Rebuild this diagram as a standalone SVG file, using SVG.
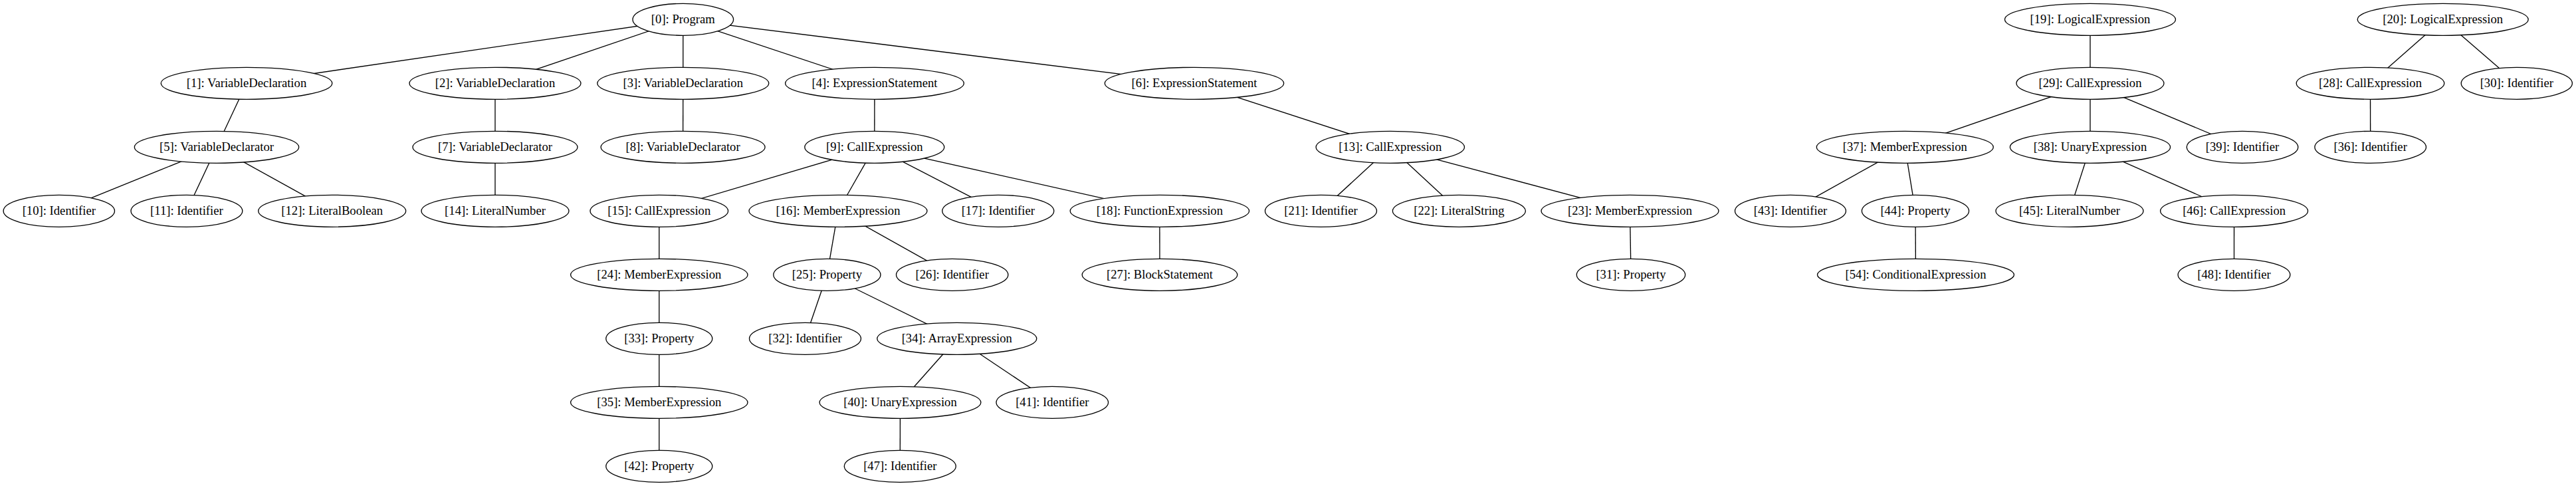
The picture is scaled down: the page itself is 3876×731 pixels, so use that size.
<svg xmlns="http://www.w3.org/2000/svg" width="3876" height="731" viewBox="0 0 3876 731">
<style>
.n ellipse{fill:#fff;stroke:#000;stroke-width:1.33}
.n text{font-family:"Liberation Serif","Times New Roman",serif;font-size:18.67px;text-anchor:middle;fill:#000}
#edges line{stroke:#000;stroke-width:1.33}
</style>
<rect width="3876" height="731" fill="#fff"/>
<g id="edges">
<line x1="1027.8" y1="29.3" x2="371" y2="125.3"/>
<line x1="1027.8" y1="29.3" x2="745" y2="125.3"/>
<line x1="1027.8" y1="29.3" x2="1027.8" y2="125.3"/>
<line x1="1027.8" y1="29.3" x2="1316" y2="125.3"/>
<line x1="1027.8" y1="29.3" x2="1797" y2="125.3"/>
<line x1="371" y1="125.3" x2="326" y2="221.3"/>
<line x1="745" y1="125.3" x2="745" y2="221.3"/>
<line x1="1027.8" y1="125.3" x2="1027.6" y2="221.3"/>
<line x1="1316" y1="125.3" x2="1315.8" y2="221.3"/>
<line x1="1797" y1="125.3" x2="2091.8" y2="221.3"/>
<line x1="326" y1="221.3" x2="88.8" y2="317.3"/>
<line x1="326" y1="221.3" x2="280.9" y2="317.3"/>
<line x1="326" y1="221.3" x2="499.7" y2="317.3"/>
<line x1="745" y1="221.3" x2="745" y2="317.3"/>
<line x1="1315.8" y1="221.3" x2="991.8" y2="317.3"/>
<line x1="1315.8" y1="221.3" x2="1261" y2="317.3"/>
<line x1="1315.8" y1="221.3" x2="1501.8" y2="317.3"/>
<line x1="1315.8" y1="221.3" x2="1744.9" y2="317.3"/>
<line x1="2091.8" y1="221.3" x2="1987.5" y2="317.3"/>
<line x1="2091.8" y1="221.3" x2="2195.4" y2="317.3"/>
<line x1="2091.8" y1="221.3" x2="2452.5" y2="317.3"/>
<line x1="991.8" y1="317.3" x2="991.8" y2="413.3"/>
<line x1="1261" y1="317.3" x2="1244.4" y2="413.3"/>
<line x1="1261" y1="317.3" x2="1432.7" y2="413.3"/>
<line x1="1744.9" y1="317.3" x2="1745" y2="413.3"/>
<line x1="2452.5" y1="317.3" x2="2454" y2="413.3"/>
<line x1="991.8" y1="413.3" x2="991.8" y2="509.3"/>
<line x1="1244.4" y1="413.3" x2="1211.5" y2="509.3"/>
<line x1="1244.4" y1="413.3" x2="1439.8" y2="509.3"/>
<line x1="991.8" y1="509.3" x2="991.8" y2="605.3"/>
<line x1="1439.8" y1="509.3" x2="1354.5" y2="605.3"/>
<line x1="1439.8" y1="509.3" x2="1583.3" y2="605.3"/>
<line x1="991.8" y1="605.3" x2="991.8" y2="701.3"/>
<line x1="1354.5" y1="605.3" x2="1354.3" y2="701.3"/>
<line x1="3145" y1="29.3" x2="3145" y2="125.3"/>
<line x1="3675.7" y1="29.3" x2="3566.5" y2="125.3"/>
<line x1="3675.7" y1="29.3" x2="3786.8" y2="125.3"/>
<line x1="3145" y1="125.3" x2="2866.3" y2="221.3"/>
<line x1="3145" y1="125.3" x2="3145" y2="221.3"/>
<line x1="3145" y1="125.3" x2="3374" y2="221.3"/>
<line x1="3566.5" y1="125.3" x2="3566.7" y2="221.3"/>
<line x1="2866.3" y1="221.3" x2="2694" y2="317.3"/>
<line x1="2866.3" y1="221.3" x2="2882" y2="317.3"/>
<line x1="3145" y1="221.3" x2="3114" y2="317.3"/>
<line x1="3145" y1="221.3" x2="3361.6" y2="317.3"/>
<line x1="2882" y1="317.3" x2="2882.5" y2="413.3"/>
<line x1="3361.6" y1="317.3" x2="3361.5" y2="413.3"/>
</g>
<g id="n0" class="n"><ellipse cx="1027.8" cy="29.3" rx="75.8" ry="24"/><text x="1027.8" y="35.3">[0]: Program</text></g>
<g id="n1" class="n"><ellipse cx="371" cy="125.3" rx="128.8" ry="24"/><text x="371" y="131.3">[1]: VariableDeclaration</text></g>
<g id="n2" class="n"><ellipse cx="745" cy="125.3" rx="129" ry="24"/><text x="745" y="131.3">[2]: VariableDeclaration</text></g>
<g id="n3" class="n"><ellipse cx="1027.8" cy="125.3" rx="129" ry="24"/><text x="1027.8" y="131.3">[3]: VariableDeclaration</text></g>
<g id="n4" class="n"><ellipse cx="1316" cy="125.3" rx="134.4" ry="24"/><text x="1316" y="131.3">[4]: ExpressionStatement</text></g>
<g id="n6" class="n"><ellipse cx="1797" cy="125.3" rx="134.7" ry="24"/><text x="1797" y="131.3">[6]: ExpressionStatement</text></g>
<g id="n5" class="n"><ellipse cx="326" cy="221.3" rx="123.7" ry="24"/><text x="326" y="227.3">[5]: VariableDeclarator</text></g>
<g id="n7" class="n"><ellipse cx="745" cy="221.3" rx="124" ry="24"/><text x="745" y="227.3">[7]: VariableDeclarator</text></g>
<g id="n8" class="n"><ellipse cx="1027.6" cy="221.3" rx="123.5" ry="24"/><text x="1027.6" y="227.3">[8]: VariableDeclarator</text></g>
<g id="n9" class="n"><ellipse cx="1315.8" cy="221.3" rx="105" ry="24"/><text x="1315.8" y="227.3">[9]: CallExpression</text></g>
<g id="n13" class="n"><ellipse cx="2091.8" cy="221.3" rx="111.7" ry="24"/><text x="2091.8" y="227.3">[13]: CallExpression</text></g>
<g id="n10" class="n"><ellipse cx="88.8" cy="317.3" rx="83.7" ry="24"/><text x="88.8" y="323.3">[10]: Identifier</text></g>
<g id="n11" class="n"><ellipse cx="280.9" cy="317.3" rx="83.9" ry="24"/><text x="280.9" y="323.3">[11]: Identifier</text></g>
<g id="n12" class="n"><ellipse cx="499.7" cy="317.3" rx="111" ry="24"/><text x="499.7" y="323.3">[12]: LiteralBoolean</text></g>
<g id="n14" class="n"><ellipse cx="745" cy="317.3" rx="111" ry="24"/><text x="745" y="323.3">[14]: LiteralNumber</text></g>
<g id="n15" class="n"><ellipse cx="991.8" cy="317.3" rx="103.8" ry="24"/><text x="991.8" y="323.3">[15]: CallExpression</text></g>
<g id="n16" class="n"><ellipse cx="1261" cy="317.3" rx="134" ry="24"/><text x="1261" y="323.3">[16]: MemberExpression</text></g>
<g id="n17" class="n"><ellipse cx="1501.8" cy="317.3" rx="84" ry="24"/><text x="1501.8" y="323.3">[17]: Identifier</text></g>
<g id="n18" class="n"><ellipse cx="1744.9" cy="317.3" rx="134.7" ry="24"/><text x="1744.9" y="323.3">[18]: FunctionExpression</text></g>
<g id="n21" class="n"><ellipse cx="1987.5" cy="317.3" rx="84" ry="24"/><text x="1987.5" y="323.3">[21]: Identifier</text></g>
<g id="n22" class="n"><ellipse cx="2195.4" cy="317.3" rx="100" ry="24"/><text x="2195.4" y="323.3">[22]: LiteralString</text></g>
<g id="n23" class="n"><ellipse cx="2452.5" cy="317.3" rx="133.5" ry="24"/><text x="2452.5" y="323.3">[23]: MemberExpression</text></g>
<g id="n24" class="n"><ellipse cx="991.8" cy="413.3" rx="133.2" ry="24"/><text x="991.8" y="419.3">[24]: MemberExpression</text></g>
<g id="n25" class="n"><ellipse cx="1244.4" cy="413.3" rx="80.6" ry="24"/><text x="1244.4" y="419.3">[25]: Property</text></g>
<g id="n26" class="n"><ellipse cx="1432.7" cy="413.3" rx="84.2" ry="24"/><text x="1432.7" y="419.3">[26]: Identifier</text></g>
<g id="n27" class="n"><ellipse cx="1745" cy="413.3" rx="116.8" ry="24"/><text x="1745" y="419.3">[27]: BlockStatement</text></g>
<g id="n31" class="n"><ellipse cx="2454" cy="413.3" rx="81.7" ry="24"/><text x="2454" y="419.3">[31]: Property</text></g>
<g id="n33" class="n"><ellipse cx="991.8" cy="509.3" rx="80" ry="24"/><text x="991.8" y="515.3">[33]: Property</text></g>
<g id="n32" class="n"><ellipse cx="1211.5" cy="509.3" rx="84" ry="24"/><text x="1211.5" y="515.3">[32]: Identifier</text></g>
<g id="n34" class="n"><ellipse cx="1439.8" cy="509.3" rx="120" ry="24"/><text x="1439.8" y="515.3">[34]: ArrayExpression</text></g>
<g id="n35" class="n"><ellipse cx="991.8" cy="605.3" rx="133.2" ry="24"/><text x="991.8" y="611.3">[35]: MemberExpression</text></g>
<g id="n40" class="n"><ellipse cx="1354.5" cy="605.3" rx="121.4" ry="24"/><text x="1354.5" y="611.3">[40]: UnaryExpression</text></g>
<g id="n41" class="n"><ellipse cx="1583.3" cy="605.3" rx="84.3" ry="24"/><text x="1583.3" y="611.3">[41]: Identifier</text></g>
<g id="n42" class="n"><ellipse cx="991.8" cy="701.3" rx="80" ry="24"/><text x="991.8" y="707.3">[42]: Property</text></g>
<g id="n47" class="n"><ellipse cx="1354.3" cy="701.3" rx="84" ry="24"/><text x="1354.3" y="707.3">[47]: Identifier</text></g>
<g id="n19" class="n"><ellipse cx="3145" cy="29.3" rx="128.5" ry="24"/><text x="3145" y="35.3">[19]: LogicalExpression</text></g>
<g id="n20" class="n"><ellipse cx="3675.7" cy="29.3" rx="128.5" ry="24"/><text x="3675.7" y="35.3">[20]: LogicalExpression</text></g>
<g id="n29" class="n"><ellipse cx="3145" cy="125.3" rx="111" ry="24"/><text x="3145" y="131.3">[29]: CallExpression</text></g>
<g id="n28" class="n"><ellipse cx="3566.5" cy="125.3" rx="111.3" ry="24"/><text x="3566.5" y="131.3">[28]: CallExpression</text></g>
<g id="n30" class="n"><ellipse cx="3786.8" cy="125.3" rx="83.6" ry="24"/><text x="3786.8" y="131.3">[30]: Identifier</text></g>
<g id="n37" class="n"><ellipse cx="2866.3" cy="221.3" rx="133" ry="24"/><text x="2866.3" y="227.3">[37]: MemberExpression</text></g>
<g id="n38" class="n"><ellipse cx="3145" cy="221.3" rx="120.6" ry="24"/><text x="3145" y="227.3">[38]: UnaryExpression</text></g>
<g id="n39" class="n"><ellipse cx="3374" cy="221.3" rx="83.8" ry="24"/><text x="3374" y="227.3">[39]: Identifier</text></g>
<g id="n36" class="n"><ellipse cx="3566.7" cy="221.3" rx="83.8" ry="24"/><text x="3566.7" y="227.3">[36]: Identifier</text></g>
<g id="n43" class="n"><ellipse cx="2694" cy="317.3" rx="83.5" ry="24"/><text x="2694" y="323.3">[43]: Identifier</text></g>
<g id="n44" class="n"><ellipse cx="2882" cy="317.3" rx="80.6" ry="24"/><text x="2882" y="323.3">[44]: Property</text></g>
<g id="n45" class="n"><ellipse cx="3114" cy="317.3" rx="111" ry="24"/><text x="3114" y="323.3">[45]: LiteralNumber</text></g>
<g id="n46" class="n"><ellipse cx="3361.6" cy="317.3" rx="111" ry="24"/><text x="3361.6" y="323.3">[46]: CallExpression</text></g>
<g id="n54" class="n"><ellipse cx="2882.5" cy="413.3" rx="148" ry="24"/><text x="2882.5" y="419.3">[54]: ConditionalExpression</text></g>
<g id="n48" class="n"><ellipse cx="3361.5" cy="413.3" rx="84.4" ry="24"/><text x="3361.5" y="419.3">[48]: Identifier</text></g>
</svg>
